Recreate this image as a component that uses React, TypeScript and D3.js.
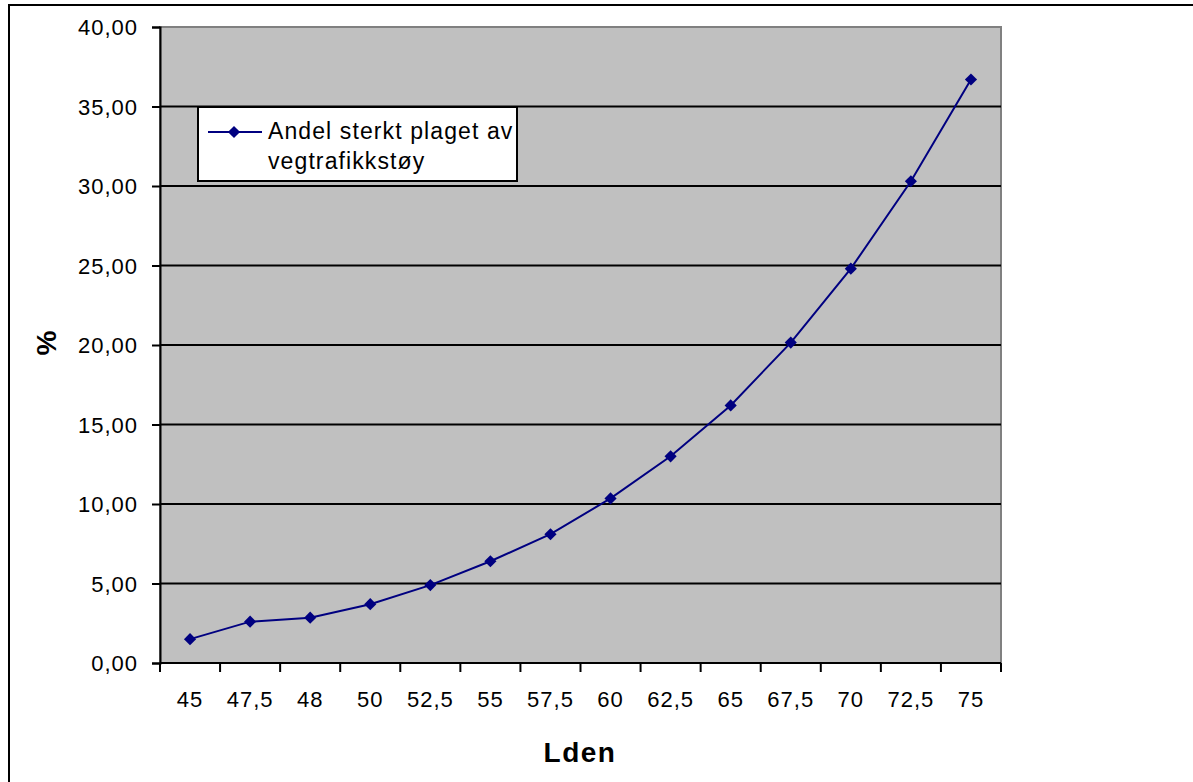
import React, { useEffect, useRef } from "react";
import * as d3 from "d3";

// Lden categories (labels as written on the axis) and share of strongly annoyed (%)
const categories: string[] = ["45", "47,5", "48", "50", "52,5", "55", "57,5", "60", "62,5", "65", "67,5", "70", "72,5", "75"];
const shareAnnoyed: number[] = [1.5, 2.6, 2.85, 3.7, 4.9, 6.4, 8.1, 10.35, 13.0, 16.2, 20.15, 24.8, 30.3, 36.7];
const yTicks: number[] = [0, 5, 10, 15, 20, 25, 30, 35, 40];
const seriesName: string[] = ["Andel sterkt plaget av", "vegtrafikkstøy"];

const W = 1193;
const H = 782;
const plot = { left: 160, top: 27, right: 1001, bottom: 663 };
const FONT = "'Liberation Sans', Arial, sans-serif";
const NAVY = "#000080";

export default function App() {
  const ref = useRef<SVGSVGElement | null>(null);

  useEffect(() => {
    const svg = d3.select(ref.current);
    svg.selectAll("*").remove();

    const x = d3.scaleBand<string>().domain(categories).range([plot.left, plot.right]).padding(0);
    const y = d3.scaleLinear().domain([0, 40]).range([plot.bottom, plot.top]);

    // outer chart frame
    svg.append("rect")
      .attr("x", 9).attr("y", 5).attr("width", W + 20).attr("height", H + 20)
      .attr("fill", "#fff").attr("stroke", "#000").attr("stroke-width", 2);

    // plot area
    svg.append("rect")
      .attr("x", plot.left).attr("y", plot.top)
      .attr("width", plot.right - plot.left).attr("height", plot.bottom - plot.top)
      .attr("fill", "#c0c0c0").attr("stroke", "#808080").attr("stroke-width", 2);

    // horizontal gridlines
    svg.append("g").selectAll("line")
      .data(yTicks.filter((t) => t > 0 && t < 40))
      .join("line")
      .attr("x1", plot.left).attr("x2", plot.right)
      .attr("y1", (d) => y(d)).attr("y2", (d) => y(d))
      .attr("stroke", "#000").attr("stroke-width", 2);

    // y axis
    const yAxis = d3.axisLeft(y).tickValues(yTicks).tickSize(8).tickPadding(14)
      .tickFormat((d) => d3.format(".2f")(d as number).replace(".", ","));
    const gy = svg.append("g").attr("transform", `translate(${plot.left},0)`).call(yAxis);
    gy.select(".domain").attr("stroke", "#000").attr("stroke-width", 2);
    gy.selectAll(".tick line").attr("stroke", "#000").attr("stroke-width", 2);
    gy.selectAll(".tick text")
      .attr("fill", "#000").attr("font-family", FONT).attr("font-size", 22)
      .attr("letter-spacing", 1).attr("dy", "0.36em");

    // x axis: ticks at category boundaries, labels at band centres
    const gx = svg.append("g").attr("transform", `translate(0,${plot.bottom})`);
    gx.append("line").attr("x1", plot.left).attr("x2", plot.right)
      .attr("stroke", "#000").attr("stroke-width", 2);
    const bounds = categories.map((c) => x(c) as number).concat([plot.right]);
    gx.selectAll("line.tk").data(bounds).join("line").attr("class", "tk")
      .attr("x1", (d) => d).attr("x2", (d) => d).attr("y1", 0).attr("y2", 9)
      .attr("stroke", "#000").attr("stroke-width", 2);
    gx.selectAll("text").data(categories).join("text")
      .attr("x", (d) => (x(d) as number) + x.bandwidth() / 2)
      .attr("y", 44)
      .attr("text-anchor", "middle")
      .attr("font-family", FONT).attr("font-size", 22).attr("letter-spacing", 1)
      .text((d) => d);

    // series line
    const pts = categories.map((c, i) => [(x(c) as number) + x.bandwidth() / 2, y(shareAnnoyed[i])] as [number, number]);
    svg.append("path")
      .attr("d", d3.line()(pts))
      .attr("fill", "none").attr("stroke", NAVY).attr("stroke-width", 2);

    const diamond = d3.symbol().type(d3.symbolSquare).size(74)();
    svg.append("g").selectAll("path").data(pts).join("path")
      .attr("d", diamond)
      .attr("transform", (p) => `translate(${p[0]},${p[1]}) rotate(45)`)
      .attr("fill", NAVY);

    // legend
    const lg = svg.append("g");
    lg.append("rect").attr("x", 198).attr("y", 107).attr("width", 319).attr("height", 74)
      .attr("fill", "#fff").attr("stroke", "#000").attr("stroke-width", 2);
    lg.append("line").attr("x1", 208).attr("x2", 262).attr("y1", 132).attr("y2", 132)
      .attr("stroke", NAVY).attr("stroke-width", 2);
    lg.append("path").attr("d", diamond)
      .attr("transform", "translate(234,132) rotate(45)").attr("fill", NAVY);
    lg.selectAll("text").data(seriesName).join("text")
      .attr("x", 268).attr("y", (_, i) => 139 + i * 30)
      .attr("font-family", FONT).attr("font-size", 23).attr("letter-spacing", 1.1)
      .text((d) => d);

    // axis titles
    svg.append("text").attr("x", 580).attr("y", 762).attr("text-anchor", "middle")
      .attr("font-family", FONT).attr("font-size", 28).attr("font-weight", "bold")
      .attr("letter-spacing", 1.5).text("Lden");
    svg.append("text").attr("transform", "translate(56,343) rotate(-90)")
      .attr("text-anchor", "middle")
      .attr("font-family", FONT).attr("font-size", 28).attr("font-weight", "bold")
      .text("%");
  }, []);

  return (
    <svg
      ref={ref}
      width={W}
      height={H}
      style={{ position: "absolute", left: 0, top: 0, display: "block" }}
    />
  );
}
